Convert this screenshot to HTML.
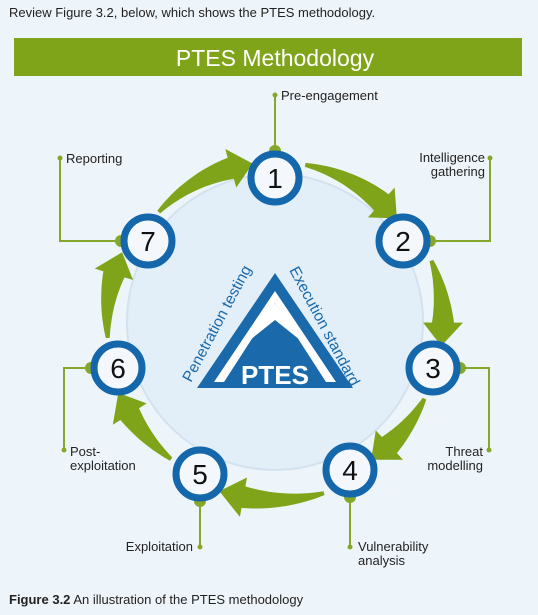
<!DOCTYPE html>
<html><head><meta charset="utf-8"><style>
body{margin:0;width:538px;height:615px;background:#eef5fa;font-family:"Liberation Sans",Arial,sans-serif;overflow:hidden}
svg{position:absolute;left:0;top:0}
</style></head><body>
<svg width="538" height="615">
<text x="9" y="17" font-size="13" fill="#222">Review Figure 3.2, below, which shows the PTES methodology.</text>
<rect x="14" y="38" width="508" height="38" fill="#7fa41a"/>
<text x="275" y="66" font-size="23" fill="#fff" text-anchor="middle">PTES Methodology</text>
<circle cx="275" cy="322" r="148" fill="#e2eef8" stroke="#d3e2ee" stroke-width="2"/>
<g id="arrows"></g>
<g id="leaders" stroke="#86a82a" stroke-width="2" fill="none"></g>
<g id="nodes"></g>
<g>
<polygon points="275,273 197,388 353,388" fill="#1a6aab"/>
<polygon points="275,291 214,382 224,382 275,303 326,382 336,382" fill="#fff"/>
<polygon points="275,303 250,340 275,320 300,340" fill="#fff"/>
<text x="275" y="384" font-size="26" font-weight="bold" fill="#fff" text-anchor="middle">PTES</text>
<text font-size="15.5" fill="#1a6aab" transform="translate(191,383) rotate(-62)">Penetration testing</text>
<text font-size="15.5" fill="#1a6aab" transform="translate(289,270) rotate(62)">Execution standard</text>
</g>
<g font-size="13" fill="#222" id="labels">
<text x="281" y="100">Pre-engagement</text>
<text x="66" y="163">Reporting</text>
<text x="485" y="162" text-anchor="end"><tspan x="485">Intelligence</tspan><tspan x="485" dy="14">gathering</tspan></text>
<text x="483" y="456" text-anchor="end"><tspan x="483">Threat</tspan><tspan x="483" dy="14">modelling</tspan></text>
<text x="70" y="456"><tspan x="70">Post-</tspan><tspan x="70" dy="14">exploitation</tspan></text>
<text x="193" y="551" text-anchor="end">Exploitation</text>
<text x="358" y="551"><tspan x="358">Vulnerability</tspan><tspan x="358" dy="14">analysis</tspan></text>
</g>
<text x="9" y="604" font-size="13" fill="#222"><tspan font-weight="bold">Figure 3.2</tspan>  An illustration of the PTES methodology</text>
</svg>
<script>
const NS="http://www.w3.org/2000/svg";
const cx=275,cy=322;
const nodeNums=[1,2,3,4,5,6,7];
const nodeX=[275,403,433,350,200,118,148];
const nodeY=[178,241,368,470,474,368,241];
const nodes=document.getElementById('nodes');
nodeNums.forEach((n,i)=>{
 const c=document.createElementNS(NS,'circle');
 c.setAttribute('cx',nodeX[i]);c.setAttribute('cy',nodeY[i]);c.setAttribute('r',24);
 c.setAttribute('fill','#f4f8fc');c.setAttribute('stroke','#1467aa');c.setAttribute('stroke-width',7);
 
 
 nodes.appendChild(c);
 const t=document.createElementNS(NS,'text');
 t.setAttribute('x',nodeX[i]);t.setAttribute('y',nodeY[i]+10);t.setAttribute('font-size',28);
 t.setAttribute('text-anchor','middle');t.setAttribute('fill','#111');t.textContent=n;
 
 
 nodes.appendChild(t);
});
const leaders=[
 [[275,151],[275,95]],
 [[121,241],[60,241],[60,158]],
 [[430,241],[490,241],[490,158]],
 [[460,368],[489,368],[489,450]],
 [[91,368],[64,368],[64,450]],
 [[200,501],[200,547]],
 [[350,497],[350,547]]
];
const lg=document.getElementById('leaders');
leaders.forEach((pts,i)=>{
 const p=document.createElementNS(NS,'polyline');
 p.setAttribute('points',pts.map(q=>q.join(',')).join(' '));
 
 
 lg.appendChild(p);
 [pts[0],pts[pts.length-1]].forEach((q,k)=>{
  const d=document.createElementNS(NS,'circle');
  d.setAttribute('cx',q[0]);d.setAttribute('cy',q[1]);d.setAttribute('r',k?2.5:6);
  d.setAttribute('fill','#86a82a');d.setAttribute('stroke','none');
  
  
  lg.appendChild(d);
 });
});
const ag=document.getElementById('arrows');
const ang=nodeX.map((x,i)=>Math.atan2(nodeY[i]-cy,x-cx));
const arrowR=[160,168,168,178,172,168,160];
for(let i=0;i<7;i++){
 let a1=ang[i],a2=ang[(i+1)%7];
 while(a2<a1)a2+=2*Math.PI;
 const R=arrowR[i];
 const s=a1+0.19, e=a2-0.28, he=a2-0.14;
 const N=16;
 const outer=[],inner=[];
 for(let k=0;k<=N;k++){const a=s+(e-s)*k/N;const w=2+9*k/N;
  outer.push([cx+(R+w)*Math.cos(a),cy+(R+w)*Math.sin(a)]);
  inner.push([cx+(R-w)*Math.cos(a),cy+(R-w)*Math.sin(a)]);}
 const hw=20;
 const h1=[cx+(R+hw)*Math.cos(e),cy+(R+hw)*Math.sin(e)];
 const h2=[cx+(R-hw)*Math.cos(e),cy+(R-hw)*Math.sin(e)];
 const tip=[cx+R*Math.cos(he),cy+R*Math.sin(he)];
 const pts=outer.concat([h1,tip,h2]).concat(inner.reverse());
 const p=document.createElementNS(NS,'polygon');
 p.setAttribute('points',pts.map(q=>q[0].toFixed(1)+','+q[1].toFixed(1)).join(' '));
 p.setAttribute('fill','#7fa41a');
 
 
 ag.appendChild(p);
}
</script>
</body></html>
